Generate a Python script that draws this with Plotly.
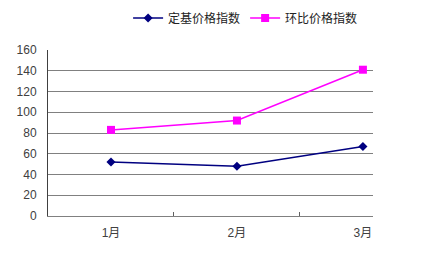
import plotly.graph_objects as go

months = ["1月", "2月", "3月"]
base_index = [52, 48, 67]
chain_index = [83, 92, 141]
y_ticks = [0, 20, 40, 60, 80, 100, 120, 140, 160]

font_cjk = "Liberation Sans, Noto Sans CJK SC, sans-serif"

fig = go.Figure()
fig.add_trace(go.Scatter(
    x=months, y=base_index, name="定基价格指数", mode="lines+markers",
    line=dict(color="#000080", width=1.5),
    marker=dict(symbol="diamond", size=7, color="#000080"),
))
fig.add_trace(go.Scatter(
    x=months, y=chain_index, name="环比价格指数", mode="lines+markers",
    line=dict(color="#FF00FF", width=1.5),
    marker=dict(symbol="square", size=8, color="#FF00FF"),
))

fig.update_layout(
    width=441, height=258,
    margin=dict(l=48, r=68, t=50, b=42, autoexpand=False),
    paper_bgcolor="white", plot_bgcolor="white",
    font=dict(family=font_cjk, size=12, color="#404040"),
    showlegend=True,
    legend=dict(orientation="h", x=0.608, xref="paper", y=0.93, yref="container",
                xanchor="center", yanchor="middle",
                font=dict(size=12, color="#222222"), itemwidth=30,
                bgcolor="rgba(0,0,0,0)"),
    xaxis=dict(type="category", range=[-0.5, 2.08], showgrid=False,
               showline=True, linecolor="#808080", linewidth=1,
               ticks="inside", tickson="boundaries", ticklen=4, tickcolor="#606060",
               ticklabelstandoff=6,
               tickfont=dict(size=12, color="#404040")),
    yaxis=dict(range=[0, 160], tickvals=y_ticks, showgrid=True,
               gridcolor="#808080", gridwidth=1,
               showline=True, linecolor="#404040", linewidth=1, mirror=False,
               ticks="", zeroline=False, ticklabelstandoff=8,
               tickfont=dict(size=12, color="#404040")),
)
fig.write_html("out.html")
